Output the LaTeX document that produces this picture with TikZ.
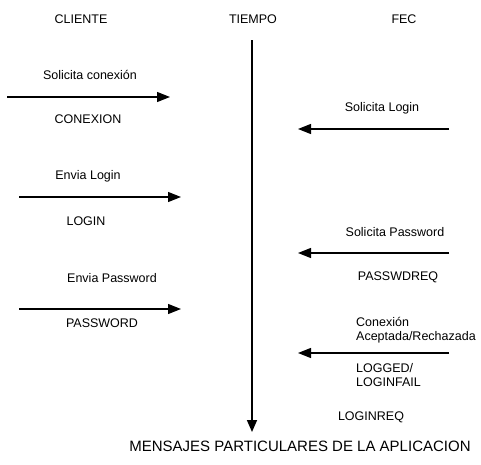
\documentclass[tikz,border=0pt]{standalone}
\usepackage{fontspec}
\setmainfont{Liberation Sans}
\usetikzlibrary{arrows.meta}

\tikzset{
  lbl/.style={inner sep=0pt, font=\fontsize{12.5}{14}\selectfont},
  lblleft/.style={lbl, anchor=west, align=left},
  msg/.style={line width=1.3pt, -{Triangle[length=13pt,width=10pt]}},
  eje/.style={line width=1.6pt, -{Triangle[length=12pt,width=10pt]}}
}

\begin{document}
\begin{tikzpicture}[x=1pt, y=-1pt]
  \useasboundingbox (0,0) rectangle (481,464);
  % cabeceras
  \node[lbl] (cliente) at (81,19) {CLIENTE};
  \node[lbl] (tiempo) at (253,19) {TIEMPO};
  \node[lbl] (fec) at (404,19) {FEC};
  % eje del tiempo
  \coordinate (t0) at (252,40);
  \coordinate (t1) at (252,432);
  \draw[eje] (t0) -- (t1);
  % cliente -> FEC
  \coordinate (a1) at (7,97);   \coordinate (b1) at (170,97);
  \coordinate (a3) at (19,197); \coordinate (b3) at (181,197);
  \coordinate (a5) at (19,309); \coordinate (b5) at (181,309);
  \draw[msg] (a1) -- (b1);
  \draw[msg] (a3) -- (b3);
  \draw[msg] (a5) -- (b5);
  \node[lbl] (solcon) at (90,75) {Solicita conexión};
  \node[lbl] (conexion) at (88,119) {CONEXION};
  \node[lbl] (envlog) at (88,176) {Envia Login};
  \node[lbl] (login) at (86,221) {LOGIN};
  \node[lbl] (envpass) at (112,278) {Envia Password};
  \node[lbl] (password) at (102,323) {PASSWORD};
  % FEC -> cliente
  \coordinate (a2) at (449,129); \coordinate (b2) at (298,129);
  \coordinate (a4) at (449,253); \coordinate (b4) at (298,253);
  \coordinate (a6) at (449,353); \coordinate (b6) at (298,353);
  \draw[msg] (a2) -- (b2);
  \draw[msg] (a4) -- (b4);
  \draw[msg] (a6) -- (b6);
  \node[lbl] (sollog) at (382,108) {Solicita Login};
  \node[lbl] (solpass) at (395,232) {Solicita Password};
  \node[lbl] (passwdreq) at (398,277) {PASSWDREQ};
  \node[lblleft] (acept) at (356,330) {Conexión\\Aceptada/Rechazada};
  \node[lblleft] (logged) at (356,375) {LOGGED/\\LOGINFAIL};
  \node[lbl] (loginreq) at (371,417) {LOGINREQ};
  % pie
  \node[lbl, font=\fontsize{15}{17}\selectfont] (mensajes) at (300,446) {MENSAJES PARTICULARES DE LA APLICACION};
\end{tikzpicture}
\end{document}
